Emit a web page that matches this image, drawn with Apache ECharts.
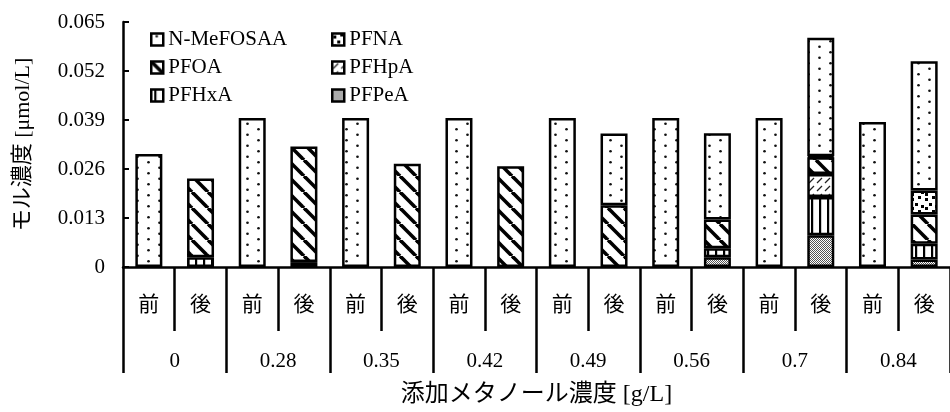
<!DOCTYPE html>
<html>
<head>
<meta charset="utf-8">
<script src="https://cdn.jsdelivr.net/npm/echarts@6/dist/echarts.min.js"></script>
<style>
html,body{margin:0;padding:0;background:#fff;}
#chart{width:950px;height:412px;}
</style>
</head>
<body>
<div id="chart"></div>
<script>
// ---- data ----
var categories = ['前','後','前','後','前','後','前','後','前','後','前','後','前','後','前','後'];
var groups = ['0','0.28','0.35','0.42','0.49','0.56','0.7','0.84'];
var yTicks = [0, 0.013, 0.026, 0.039, 0.052, 0.065];
var PFPeA     = [0, 0,      0, 0.0013, 0, 0,      0, 0,      0, 0,      0, 0.0026, 0, 0.0084, 0, 0.0020];
var PFHxA     = [0, 0.0026, 0, 0,      0, 0,      0, 0,      0, 0,      0, 0.0024, 0, 0.0102, 0, 0.0042];
var PFHpA     = [0, 0,      0, 0,      0, 0,      0, 0,      0, 0,      0, 0,      0, 0.0061, 0, 0];
var PFOA      = [0, 0.0209, 0, 0.0307, 0, 0.0274, 0, 0.0267, 0, 0.0164, 0, 0.0076, 0, 0.0044, 0, 0.0077];
var PFNA      = [0, 0,      0, 0,      0, 0,      0, 0,      0, 0,      0, 0,      0, 0.0003, 0, 0.0064];
var NMeFOSAA  = [0.0300, 0, 0.0395, 0, 0.0395, 0, 0.0395, 0, 0.0395, 0.0190, 0.0395, 0.0229, 0.0395, 0.0314, 0.0385, 0.0343];

// ---- patterns ----
function tile(w, h, draw) {
  var c = document.createElement('canvas');
  c.width = w; c.height = h;
  var ctx = c.getContext('2d');
  ctx.fillStyle = '#fff';
  ctx.fillRect(0, 0, w, h);
  draw(ctx, w, h);
  return { image: c, repeat: 'repeat' };
}
var patDots = tile(22, 11, function (ctx) {
  ctx.fillStyle = '#111';
  ctx.beginPath(); ctx.arc(5.5, 2.75, 1.35, 0, Math.PI * 2); ctx.fill();
  ctx.beginPath(); ctx.arc(16.5, 8.25, 1.35, 0, Math.PI * 2); ctx.fill();
});
var patBoldDiag = tile(16, 16, function (ctx, w, h) {
  ctx.strokeStyle = '#000'; ctx.lineWidth = 3.6;
  for (var k = -1; k <= 1; k++) {
    ctx.beginPath(); ctx.moveTo(k * w, 0); ctx.lineTo(k * w + w, h); ctx.stroke();
  }
});
var patLightDiag = tile(8, 8, function (ctx, w, h) {
  ctx.strokeStyle = '#222'; ctx.lineWidth = 1.3;
  ctx.beginPath(); ctx.moveTo(1, 7); ctx.lineTo(6, 2); ctx.stroke();
});
var patVert = tile(8, 8, function (ctx, w, h) {
  ctx.fillStyle = '#000';
  ctx.fillRect(3, 0, 2.2, h);
});
var patCross = tile(4, 4, function (ctx) {
  ctx.fillStyle = '#555';
  for (var y = 0; y < 4; y++) for (var x = 0; x < 4; x++) {
    if ((x + y) % 2 === 0) ctx.fillRect(x, y, 1, 1);
  }
});
var patBlobs = tile(14, 14, function (ctx) {
  ctx.fillStyle = '#000';
  ctx.fillRect(1, 2, 3, 3);
  ctx.fillRect(8, 0, 3, 3);
  ctx.fillRect(5, 7, 3, 3);
  ctx.fillRect(11, 9, 3, 3);
  ctx.fillRect(1, 11, 3, 3);
});

var serif = "'Liberation Serif','Noto Sans CJK JP'";
var series = [
  ['PFPeA', PFPeA, patCross],
  ['PFHxA', PFHxA, patVert],
  ['PFHpA', PFHpA, patLightDiag],
  ['PFOA', PFOA, patBoldDiag],
  ['PFNA', PFNA, patBlobs],
  ['N-MeFOSAA', NMeFOSAA, patDots]
].map(function (s) {
  return {
    name: s[0], type: 'bar', stack: 'total', barWidth: 27,
    xAxisIndex: 0, yAxisIndex: 0,
    data: s[1].map(function (v) { return v === 0 ? '-' : v; }),
    itemStyle: { color: s[2], borderColor: '#000', borderWidth: 2.5 },
    emphasis: { disabled: true },
    animation: false
  };
});

var legendCommon = {
  orient: 'vertical', top: 24, itemWidth: 12, itemHeight: 12, itemGap: 7,
  icon: 'rect', selectedMode: false,
  textStyle: { fontFamily: serif, fontSize: 21, color: '#000' },
  itemStyle: { borderColor: '#000', borderWidth: 2.5 }
};

var chart = echarts.init(document.getElementById('chart'), null, { renderer: 'canvas' });
chart.setOption({
  animation: false,
  backgroundColor: '#fff',
  grid: { left: 123, right: -9, top: 22, bottom: 136, containLabel: false },
  legend: [
    Object.assign({}, legendCommon, { left: 145, data: ['N-MeFOSAA', 'PFOA', 'PFHxA'] }),
    Object.assign({}, legendCommon, { left: 326, data: ['PFNA', 'PFHpA', 'PFPeA'] })
  ],
  xAxis: [
    {
      type: 'category', data: categories, position: 'bottom',
      axisLine: { show: true, lineStyle: { color: '#000', width: 2.5 } },
      axisTick: { show: true, interval: 0, length: 64, lineStyle: { color: '#000', width: 2.5 } },
      axisLabel: { interval: 0, margin: 26, fontSize: 21, color: '#000', fontFamily: "'Noto Sans CJK JP'" },
      splitLine: { show: false }
    },
    {
      type: 'category', data: groups, position: 'bottom',
      axisLine: { show: false },
      axisTick: { show: true, interval: 0, length: 106, lineStyle: { color: '#000', width: 2.5 } },
      axisLabel: { interval: 0, margin: 84, fontSize: 21, color: '#000', fontFamily: serif },
      splitLine: { show: false },
      name: '添加メタノール濃度 [g/L]', nameLocation: 'middle', nameGap: 116,
      nameTextStyle: { fontSize: 24, color: '#000', fontFamily: serif }
    }
  ],
  yAxis: {
    type: 'value', min: yTicks[0], max: yTicks[yTicks.length - 1], interval: yTicks[1],
    axisLine: { show: true, lineStyle: { color: '#000', width: 2.5 } },
    axisTick: { show: true, inside: true, length: 6, lineStyle: { color: '#000', width: 2 } },
    axisLabel: {
      margin: 18, fontSize: 21, color: '#000', fontFamily: serif,
      formatter: function (v) { return v === 0 ? '0' : v.toFixed(3); }
    },
    splitLine: { show: false },
    name: 'モル濃度 [μmol/L]', nameLocation: 'middle', nameGap: 89,
    nameTextStyle: { fontSize: 22, color: '#000', fontFamily: serif }
  },
  series: series
});
</script>
</body>
</html>
